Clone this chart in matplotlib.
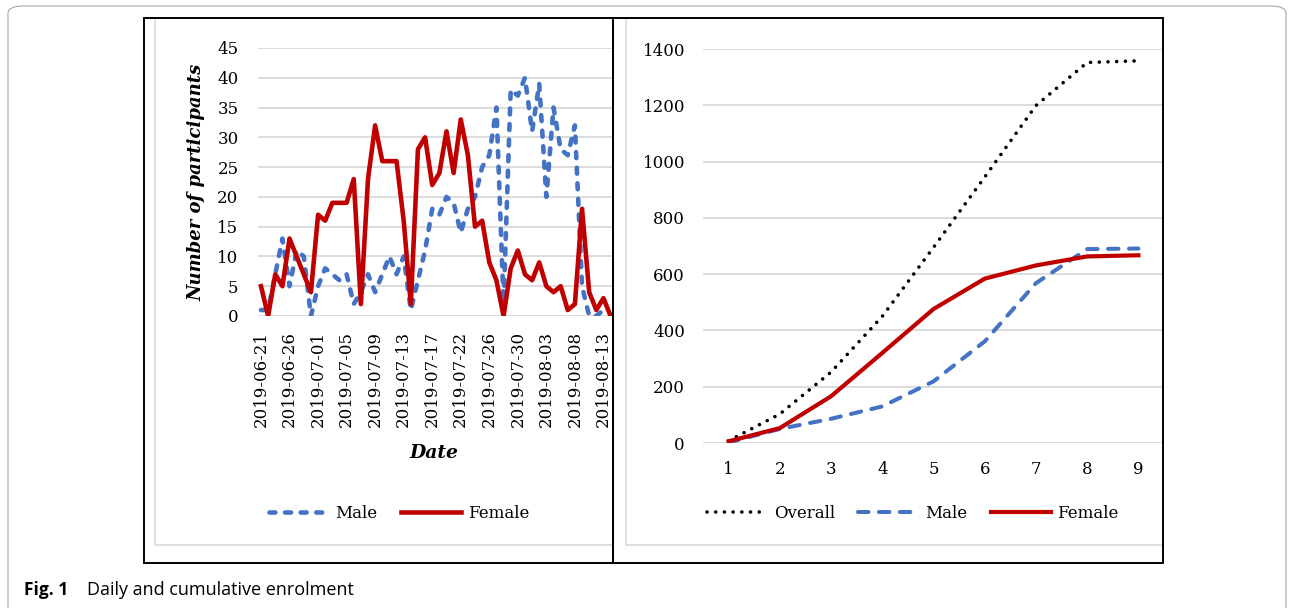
import numpy as np
import matplotlib
matplotlib.use("Agg")
import matplotlib.pyplot as plt
from matplotlib.patches import Rectangle, FancyBboxPatch

plt.rcParams["font.family"] = "DejaVu Serif"

# daily enrolment (one value per recruitment day, Sundays skipped)
male_daily = [1, 1, 7, 13, 5, 11, 10, 0, 5, 8,
              7, 6, 7, 2, 4, 7, 4, 7, 10, 7,
              10, 1, 6, 11, 18, 17, 20, 19, 14, 18,
              20, 25, 27, 35, 2, 38, 37, 40, 31, 39,
              20, 35, 28, 27, 32, 5, 0, 0, 1, np.nan]
female_daily = [5, 0, 7, 5, 13, 10, 7, 4, 17, 16,
                19, 19, 19, 23, 2, 23, 32, 26, 26, 26,
                16, 2, 28, 30, 22, 24, 31, 24, 33, 27,
                15, 16, 9, 6, 0, 8, 11, 7, 6, 9,
                5, 4, 5, 1, 2, 18, 4, 1, 3, 0]
date_labels = ["2019-06-21", "2019-06-26", "2019-07-01", "2019-07-05",
               "2019-07-09", "2019-07-13", "2019-07-17", "2019-07-22",
               "2019-07-26", "2019-07-30", "2019-08-03", "2019-08-08",
               "2019-08-13"]

# cumulative enrolment by week
weeks = [1, 2, 3, 4, 5, 6, 7, 8, 9]
overall_cum = [8, 103, 252, 450, 695, 945, 1199, 1352, 1358]
male_cum = [2, 50, 86, 130, 219, 361, 568, 689, 691]
female_cum = [6, 53, 166, 320, 476, 584, 631, 663, 667]

BLUE = "#4472C4"
RED = "#C00000"
GRID = "#D9D9D9"
W, H = 1292, 608

fig = plt.figure(figsize=(W / 100, H / 100), dpi=100)


def px_rect(x0, y0, x1, y1):
    # pixel box (top-left origin) -> figure fraction rect
    return [x0 / W, 1 - y1 / H, (x1 - x0) / W, (y1 - y0) / H]


def style_axes(ax):
    for s in ax.spines.values():
        s.set_visible(False)
    ax.yaxis.grid(True, color=GRID, lw=1.3)
    ax.set_axisbelow(True)
    ax.tick_params(length=0, labelsize=12)


# outer rounded border of the figure panel
fig.patches.append(FancyBboxPatch((8 / W, -0.1), 1278 / W, 1.1 - 6 / H,
                                  boxstyle="round,pad=0,rounding_size=0.012",
                                  transform=fig.transFigure, fill=False,
                                  ec="#A6A6A6", lw=0.8))

# excel chart-area borders (only left and bottom edges show)
for x0, x1 in [(155, 612), (626, 1162)]:
    fig.add_artist(plt.Line2D([x0 / W, x0 / W, x1 / W],
                              [1 - 18 / H, 1 - 545 / H, 1 - 545 / H],
                              transform=fig.transFigure, color=GRID, lw=1.2))
# word frames
for x0, x1 in [(144, 613), (613, 1163)]:
    fig.patches.append(Rectangle((x0 / W, 1 - 563 / H), (x1 - x0) / W, 545 / H,
                                 transform=fig.transFigure, fill=False,
                                 ec="black", lw=1.4, zorder=5))

# ---- left: daily
ax1 = fig.add_axes(px_rect(258, 48, 612, 316))
style_axes(ax1)
x = np.arange(len(female_daily))
ax1.plot(x, male_daily, color=BLUE, lw=3.3, ls=(0, (1.3, 2.1)),
         dash_capstyle="round", label="Male")
ax1.plot(x, female_daily, color=RED, lw=3.3, label="Female")
ax1.set_ylim(0, 45)
ax1.set_yticks(range(0, 46, 5))
ax1.set_xlim(-0.42, 49.2)
ax1.set_xticks(x[::4])
ax1.set_xticklabels(date_labels, rotation=90)
ax1.tick_params(axis="x", pad=11)
ax1.tick_params(axis="y", pad=14)
fig.text(196 / W, 1 - 182 / H, "Number of participants", rotation=90,
         ha="center", va="center", fontsize=13, weight="bold", style="italic")
fig.text(434 / W, 1 - 453 / H, "Date", ha="center", va="center",
         fontsize=13.5, weight="bold", style="italic")
fig.legend(*ax1.get_legend_handles_labels(), loc="center",
           bbox_to_anchor=(399 / W, 1 - 513 / H), ncol=2, frameon=False,
           fontsize=12, handlelength=3.6, handletextpad=0.4, columnspacing=1.4)

# ---- right: cumulative
ax2 = fig.add_axes(px_rect(703, 49, 1164, 443))
style_axes(ax2)
ax2.plot(weeks, overall_cum, color="black", lw=2.6, ls=(0, (0.01, 2.4)),
         dash_capstyle="round", label="Overall")
ax2.plot(weeks, male_cum, color=BLUE, lw=2.9, ls=(0, (2.6, 2.6)),
         dash_capstyle="round", label="Male")
ax2.plot(weeks, female_cum, color=RED, lw=3.0, label="Female")
ax2.set_ylim(0, 1400)
ax2.set_yticks(range(0, 1401, 200))
ax2.set_xlim(0.5, 9.5)
ax2.set_xticks(weeks)
ax2.tick_params(axis="x", pad=13)
ax2.tick_params(axis="y", pad=13)
fig.legend(*ax2.get_legend_handles_labels(), loc="center",
           bbox_to_anchor=(913 / W, 1 - 513 / H), ncol=3, frameon=False,
           fontsize=12, handlelength=3.6, handletextpad=0.4, columnspacing=1.4)

# caption
fig.text(24 / W, 1 - 590 / H, "Fig. 1", fontsize=12.5, weight="bold",
         family="Open Sans", va="center")
fig.text(87 / W, 1 - 590 / H, "Daily and cumulative enrolment", fontsize=13,
         family="Open Sans", va="center")

fig.savefig("out.png", dpi=100)
